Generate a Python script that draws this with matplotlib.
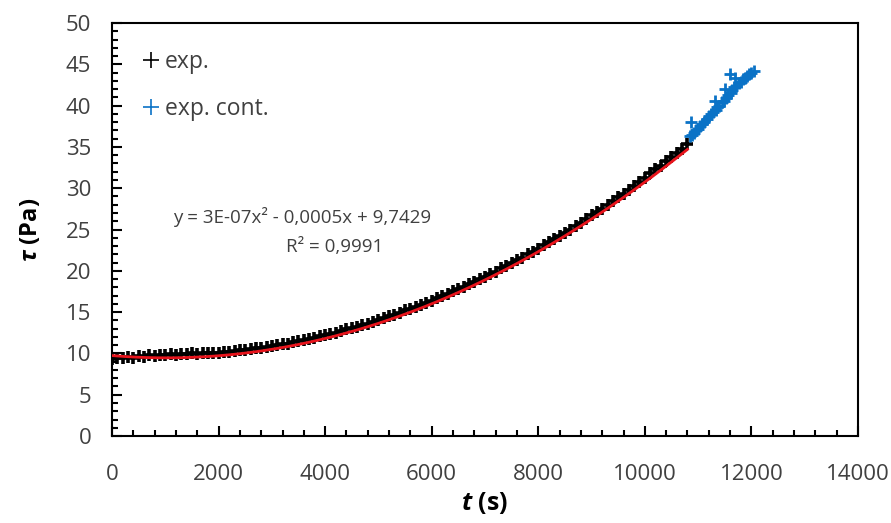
import numpy as np
import matplotlib
matplotlib.use('Agg')
from matplotlib import pyplot as plt
from matplotlib.ticker import MultipleLocator

plt.rcParams['font.family'] = ['Open Sans', 'DejaVu Sans']
plt.rcParams['mathtext.fontset'] = 'custom'
plt.rcParams['mathtext.it'] = 'Open Sans:bold:italic'
plt.rcParams['mathtext.rm'] = 'Open Sans:bold'

# measured shear stress, one reading every 100 s
t_exp = np.arange(0, 10900, 100)
tau_exp = [9.3, 9.5, 9.4, 9.6, 9.5, 9.7, 9.6, 9.8, 9.7, 9.8,
           9.8, 9.9, 9.8, 9.9, 9.9, 10.0, 9.9, 10.0, 10.1, 10.0,
           10.1, 10.2, 10.2, 10.3, 10.4, 10.4, 10.5, 10.6, 10.7, 10.8,
           10.9, 11.0, 11.1, 11.2, 11.4, 11.5, 11.6, 11.8, 11.9, 12.1,
           12.2, 12.4, 12.5, 12.7, 12.9, 13.1, 13.2, 13.4, 13.6, 13.8,
           14.0, 14.3, 14.5, 14.7, 14.9, 15.2, 15.4, 15.6, 15.9, 16.1,
           16.4, 16.7, 16.9, 17.2, 17.5, 17.8, 18.1, 18.4, 18.7, 19.0,
           19.3, 19.6, 19.9, 20.3, 20.6, 20.9, 21.3, 21.6, 22.0, 22.3,
           22.7, 23.1, 23.5, 23.8, 24.2, 24.6, 25.0, 25.4, 25.8, 26.3,
           26.7, 27.1, 27.5, 28.0, 28.4, 28.9, 29.3, 29.8, 30.3, 30.7,
           31.2, 31.8, 32.3, 32.7, 33.3, 33.8, 34.3, 34.8, 35.3]

# continued measurement
t_cont = [10840, 10870, 10880, 10920, 10960, 11000, 11040, 11080, 11120, 11160,
          11200, 11240, 11280, 11320, 11330, 11360, 11400, 11440, 11480, 11500,
          11520, 11560, 11600, 11610, 11640, 11680, 11700, 11720, 11760, 11800,
          11840, 11880, 11920, 11960, 12000, 12040]
tau_cont = [36.3, 38.0, 36.4, 36.7, 37.0, 37.2, 37.5, 37.8, 38.0, 38.4,
            38.7, 39.0, 39.2, 40.5, 39.5, 39.8, 40.0, 40.4, 40.6, 42.0,
            40.9, 41.3, 43.8, 41.5, 41.9, 42.2, 43.3, 42.4, 42.7, 42.9,
            43.2, 43.4, 43.6, 43.8, 44.0, 44.2]

# polynomial trendline (unrounded coefficients)
fit_coef = [2.64e-7, -5.4e-4, 9.74]
t_fit = np.linspace(0, 10800, 200)

fig = plt.figure(figsize=(8.91, 5.23), dpi=100)
ax = fig.add_axes([0.1257, 0.1663, 0.8372, 0.7897])

ax.plot(t_exp, tau_exp, '+', color='black', markersize=9, mew=2.6, label='exp.')
ax.plot(t_cont, tau_cont, '+', color='#0a72c6', markersize=9, mew=2.0, label='exp. cont.')
ax.plot(t_fit, np.polyval(fit_coef, t_fit), color='#e8141c', lw=2.0, zorder=3)

ax.set_xlim(0, 14000)
ax.set_ylim(0, 50)
ax.xaxis.set_major_locator(MultipleLocator(2000))
ax.xaxis.set_minor_locator(MultipleLocator(400))
ax.yaxis.set_major_locator(MultipleLocator(5))
ax.yaxis.set_minor_locator(MultipleLocator(1))
ax.tick_params(which='both', direction='in', top=False, right=False,
               labelsize=16, labelcolor='#404040', width=1.5)
ax.tick_params(which='major', length=7)
ax.tick_params(which='minor', length=4)
ax.tick_params(axis='x', which='major', pad=20)
ax.tick_params(axis='y', which='major', pad=15)
for s in ax.spines.values():
    s.set_linewidth(1.5)

ax.set_xlabel(r'$t$ (s)', fontsize=18, fontweight='bold', labelpad=4)
ax.set_ylabel(r'$\tau$ (Pa)', fontsize=17, fontweight='bold', labelpad=16)

ax.text(0.255, 0.530, 'y = 3E-07x² - 0,0005x + 9,7429', transform=ax.transAxes,
        ha='center', va='center', fontsize=13.5, color='#404040')
ax.text(0.298, 0.458, 'R² = 0,9991', transform=ax.transAxes,
        ha='center', va='center', fontsize=13.5, color='#404040')

leg = ax.legend(loc='upper left', frameon=False, fontsize=16.5, handlelength=0.6,
                handletextpad=0.3, labelspacing=1.0, bbox_to_anchor=(0.016, 0.985))
for txt in leg.get_texts():
    txt.set_color('#404040')
for h in leg.legend_handles:
    h.set_markeredgewidth(1.2)
    h.set_markersize(12)

fig.savefig('out.png', dpi=100)
